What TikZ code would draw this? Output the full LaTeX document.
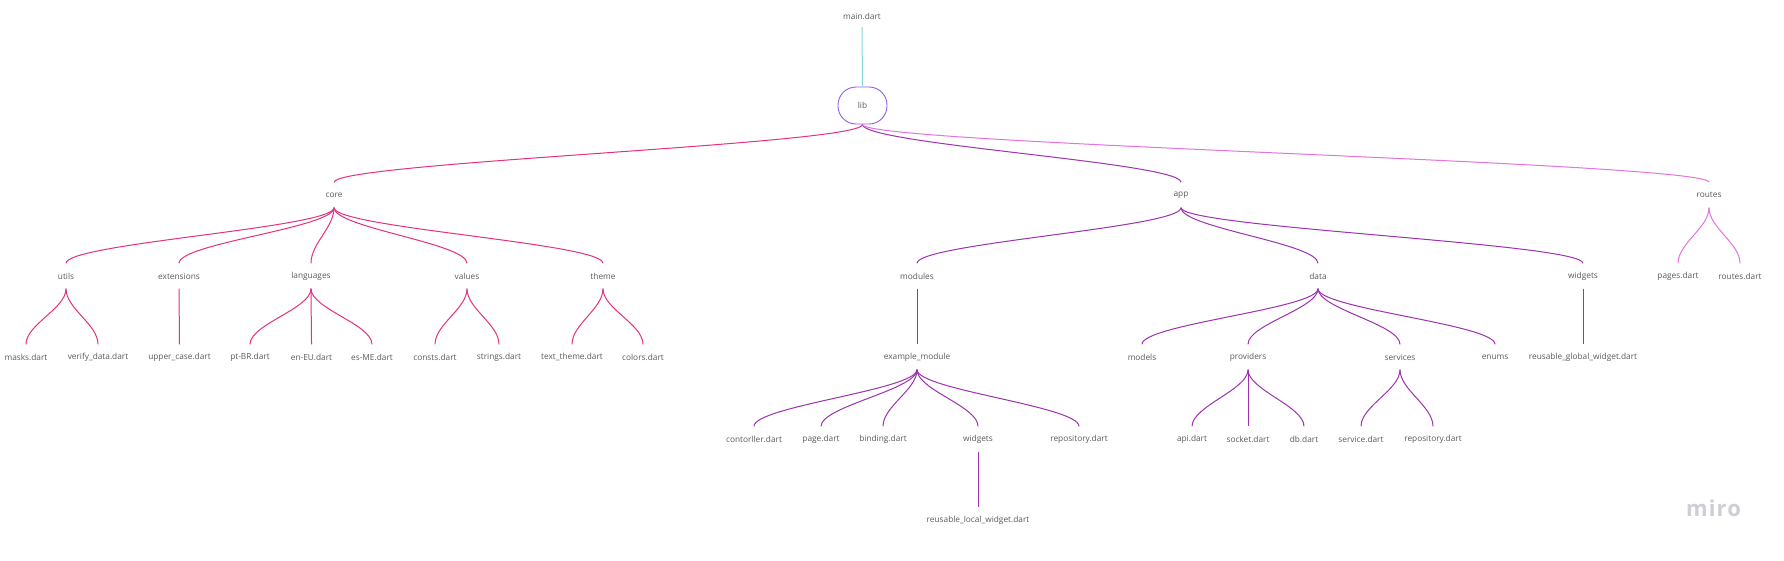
\documentclass[tikz,border=0pt]{standalone}
\usepackage{fontspec}
\setmainfont{Open Sans}
\newfontfamily\mirofont[LetterSpace=5]{Open Sans}
\definecolor{txt}{HTML}{5A5A5A}
\definecolor{corepink}{HTML}{E5317F}
\definecolor{apppurple}{HTML}{9E32B0}
\definecolor{routeviolet}{HTML}{E472DF}
\definecolor{maincyan}{HTML}{86D6DB}
\definecolor{libborder}{HTML}{8E5EE6}
\definecolor{mirogray}{HTML}{CCCED8}
\newcommand\mmedge[3]{\draw[#1] (#2.south) .. controls +(0,20) and +(0,-20) .. (#3.north);}
\begin{document}
\begin{tikzpicture}[x=1pt,y=-1pt,
  lbl/.style={text=txt, font=\fontsize{8.3}{10}\selectfont, minimum height=25pt, inner sep=0pt},
  corel/.style={draw=corepink, line width=1pt},
  appl/.style={draw=apppurple, line width=1pt},
  routel/.style={draw=routeviolet, line width=1pt},
  mainl/.style={draw=maincyan, line width=1pt},
  libbox/.style={draw=libborder, line width=0.9pt, rounded corners=18pt, minimum width=49pt, minimum height=37pt, text=txt, font=\fontsize{8.3}{10}\selectfont, inner sep=0pt}]
\useasboundingbox (0,0) rectangle (1784,560);
\fill[white] (0,0) rectangle (1784,560);
% level 0-1
\node[lbl, minimum height=22pt] (main) at (862,16) {main.dart};
\node[libbox] (lib) at (862.5,105.5) {lib};
% level 2
\node[lbl] (core) at (334,195) {core};
\node[lbl] (app) at (1181,195) {app};
\node[lbl] (routes) at (1709,195) {routes};
% level 3
\node[lbl] (utils) at (66,276) {utils};
\node[lbl] (ext) at (179,276) {extensions};
\node[lbl] (lang) at (311,276) {languages};
\node[lbl] (values) at (467,276) {values};
\node[lbl] (theme) at (603,276) {theme};
\node[lbl] (modules) at (917,276) {modules};
\node[lbl] (data) at (1318,276) {data};
\node[lbl] (gwidgets) at (1583,276) {widgets};
\node[lbl] (pages) at (1678,276) {pages.dart};
\node[lbl] (routesd) at (1740,276) {routes.dart};
% level 4
\node[lbl] (masks) at (26,357) {masks.dart};
\node[lbl] (verify) at (98,357) {verify\_data.dart};
\node[lbl] (upper) at (179.5,357) {upper\_case.dart};
\node[lbl] (ptbr) at (250,357) {pt-BR.dart};
\node[lbl] (eneu) at (311.5,357) {en-EU.dart};
\node[lbl] (esme) at (372,357) {es-ME.dart};
\node[lbl] (consts) at (435,357) {consts.dart};
\node[lbl] (strings) at (499,357) {strings.dart};
\node[lbl] (texttheme) at (572,357) {text\_theme.dart};
\node[lbl] (colors) at (643,357) {colors.dart};
\node[lbl] (example) at (917,357) {example\_module};
\node[lbl] (models) at (1142,357) {models};
\node[lbl] (providers) at (1248,357) {providers};
\node[lbl] (services) at (1400,357) {services};
\node[lbl] (enums) at (1495,357) {enums};
\node[lbl] (rgw) at (1583,357) {reusable\_global\_widget.dart};
% level 5
\node[lbl] (ctrl) at (754,439) {contorller.dart};
\node[lbl] (page) at (821,439) {page.dart};
\node[lbl] (binding) at (883,439) {binding.dart};
\node[lbl] (lwidgets) at (978,439) {widgets};
\node[lbl] (repoa) at (1079,439) {repository.dart};
\node[lbl] (api) at (1192,439) {api.dart};
\node[lbl] (socket) at (1248,439) {socket.dart};
\node[lbl] (db) at (1304,439) {db.dart};
\node[lbl] (service) at (1361,439) {service.dart};
\node[lbl] (repob) at (1433,439) {repository.dart};
% level 6
\node[lbl] (rlw) at (978,520) {reusable\_local\_widget.dart};
% logo
\node[text=mirogray, font=\mirofont\fontsize{22}{24}\selectfont\bfseries, inner sep=0pt] (miro) at (1713.5,508) {miro};
% connectors
\draw[mainl] (main.south) -- (lib.north);
\mmedge{corel}{lib}{core}
\mmedge{appl}{lib}{app}
\mmedge{routel}{lib}{routes}
\foreach \c in {utils,ext,lang,values,theme} {\mmedge{corel}{core}{\c}}
\foreach \c in {masks,verify} {\mmedge{corel}{utils}{\c}}
\draw[corel] (ext.south) -- (upper.north);
\foreach \c in {ptbr,eneu,esme} {\mmedge{corel}{lang}{\c}}
\foreach \c in {consts,strings} {\mmedge{corel}{values}{\c}}
\foreach \c in {texttheme,colors} {\mmedge{corel}{theme}{\c}}
\foreach \c in {modules,data,gwidgets} {\mmedge{appl}{app}{\c}}
\mmedge{appl}{modules}{example}
\foreach \c in {ctrl,page,binding,lwidgets,repoa} {\mmedge{appl}{example}{\c}}
\mmedge{appl}{lwidgets}{rlw}
\foreach \c in {models,providers,services,enums} {\mmedge{appl}{data}{\c}}
\foreach \c in {api,socket,db} {\mmedge{appl}{providers}{\c}}
\foreach \c in {service,repob} {\mmedge{appl}{services}{\c}}
\mmedge{appl}{gwidgets}{rgw}
\foreach \c in {pages,routesd} {\mmedge{routel}{routes}{\c}}
\end{tikzpicture}
\end{document}
